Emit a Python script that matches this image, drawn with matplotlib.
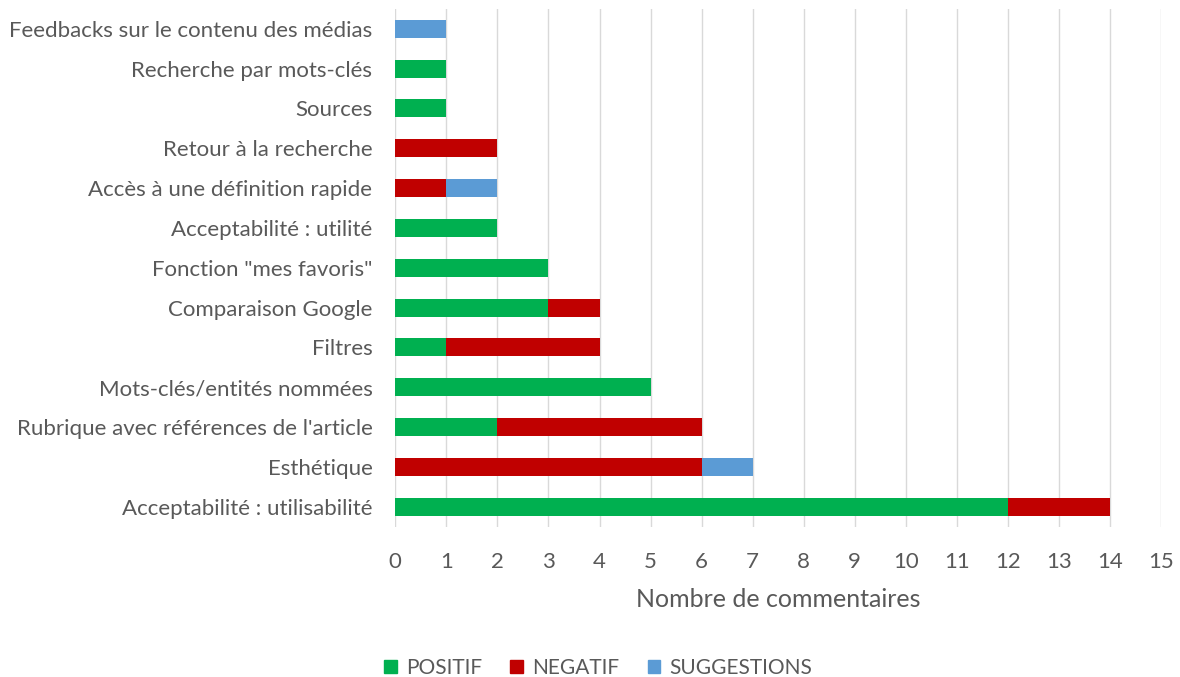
import matplotlib.pyplot as plt
from matplotlib.patches import Patch

plt.rcParams['font.family'] = ['Lato', 'DejaVu Sans']

categories = ["Acceptabilité : utilisabilité", "Esthétique",
              "Rubrique avec références de l'article", "Mots-clés/entités nommées",
              "Filtres", "Comparaison Google", 'Fonction "mes favoris"',
              "Acceptabilité : utilité", "Accès à une définition rapide",
              "Retour à la recherche", "Sources", "Recherche par mots-clés",
              "Feedbacks sur le contenu des médias"]
positif = [12, 0, 2, 5, 1, 3, 3, 2, 0, 0, 1, 1, 0]
negatif = [2, 6, 4, 0, 3, 1, 0, 0, 1, 2, 0, 0, 0]
suggestions = [0, 1, 0, 0, 0, 0, 0, 0, 1, 0, 0, 0, 1]

green = '#00B050'
red = '#C00000'
blue = '#5B9BD5'
grey = '#595959'

fig = plt.figure(figsize=(11.8, 6.77), dpi=100)
ax = fig.add_axes([0.335, 0.222, 0.649, 0.765])

y = range(len(categories))
left2 = [p + n for p, n in zip(positif, negatif)]
ax.barh(y, positif, height=0.45, color=green, zorder=3)
ax.barh(y, negatif, left=positif, height=0.45, color=red, zorder=3)
ax.barh(y, suggestions, left=left2, height=0.45, color=blue, zorder=3)

ax.set_xlim(0, 15)
ax.set_ylim(-0.5, len(categories) - 0.5)
ax.set_xticks(range(16))
ax.set_yticks(list(y))
ax.set_yticklabels(categories)
ax.tick_params(axis='both', length=0, labelsize=16, colors=grey)
ax.tick_params(axis='x', pad=18)
ax.tick_params(axis='y', pad=16.5)
ax.grid(axis='x', color='#D9D9D9', linewidth=1, zorder=0)
for s in ax.spines.values():
    s.set_visible(False)

ax.set_xlabel("Nombre de commentaires", fontsize=18, color=grey, labelpad=12)

handles = [Patch(color=green, label='POSITIF'),
           Patch(color=red, label='NEGATIF'),
           Patch(color=blue, label='SUGGESTIONS')]
leg = fig.legend(handles=handles, loc='center', bbox_to_anchor=(0.507, 0.013),
                 ncol=3, frameon=False, fontsize=15, handlelength=0.6,
                 handleheight=0.6, handletextpad=0.45, columnspacing=1.35)
for t in leg.get_texts():
    t.set_color(grey)

fig.savefig('out.png', dpi=100)
